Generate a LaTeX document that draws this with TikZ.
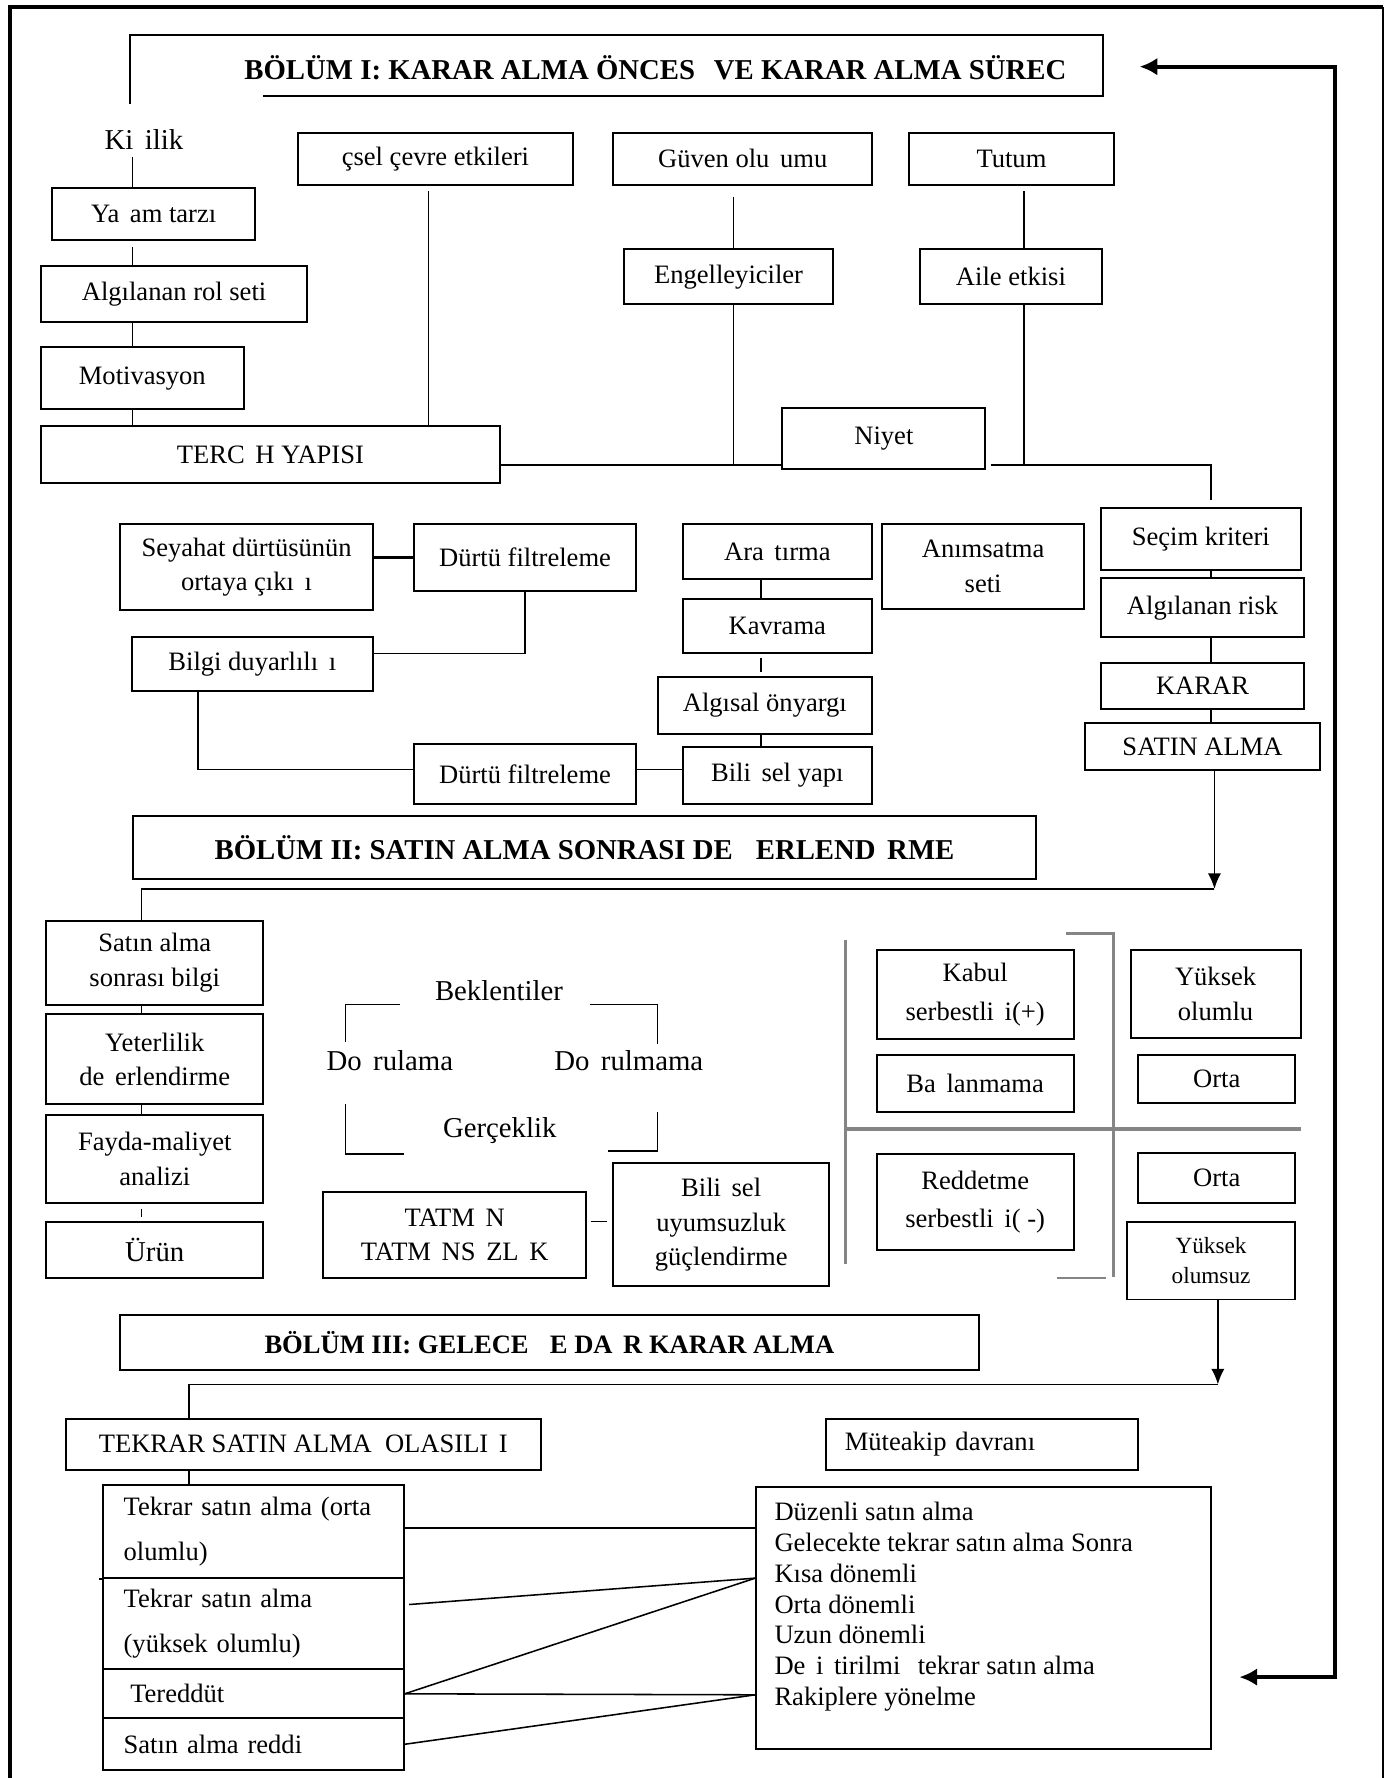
\documentclass[tikz,border=0pt]{standalone}
\usepackage{fontspec}
\setmainfont{Liberation Serif}
\usetikzlibrary{arrows.meta,calc}
\definecolor{GriClr}{rgb}{0.52,0.52,0.52}
\newcommand{\eksik}{\hspace{.4em}}

\begin{document}
\begin{tikzpicture}[x=0.018cm,y=-0.018cm,
  kutu/.style={draw,line width=0.9pt,inner sep=0pt,align=center,font=\fontsize{12}{15.5}\selectfont},
  boy/.style 2 args={minimum width={#1*0.018cm},minimum height={#2*0.018cm}},
  solkutu/.style={kutu,align=left,inner xsep=0.324cm,text width=4.122cm,font=\fontsize{12}{20.4}\selectfont},
  yazi/.style={font=\fontsize{13}{15.6}\selectfont},
  baslik/.style={font=\fontsize{13}{15.6}\selectfont\bfseries},
  cizgi/.style={line width=0.7pt},
  cerceve/.style={line width=0.9pt},
  gri/.style={draw=GriClr,line width=1.3pt},
  ok/.style={-{Latex[length=7pt,width=6pt]}},
  kalin/.style={line width=1.8pt,{Latex[length=8pt,width=8pt]}-{Latex[length=8pt,width=8pt]}}]
\useasboundingbox (0,0) rectangle (1221,1568);

% dis cerceve
\draw[line width=1.8pt] (9,1568) -- (9,6.3) -- (1219.3,6.3);
\draw[line width=0.9pt] (1219.3,6.3) -- (1219.3,1568);

% BOLUM I
\draw[cerceve] (115,92) -- (115,31) -- (973,31) -- (973,85) -- (232,85);
\node[baslik] (bolum1) at (578,60) {BÖLÜM I: KARAR ALMA ÖNCES\eksik{} VE KARAR ALMA SÜREC};

\node[yazi] (kisilik) at (127,123) {Ki\eksik{}ilik};
\node[kutu,boy={242}{46}] (icsel) at (384,140) {çsel çevre etkileri};
\node[kutu,boy={228}{46}] (guven) at (655,140) {Güven olu\eksik{}umu};
\node[kutu,boy={180}{46}] (tutum) at (892,140) {Tutum};
\node[kutu,boy={179}{46}] (yasam) at (135.5,189) {Ya\eksik{}am tarzı};
\node[kutu,boy={235}{49}] (rol) at (153.5,259.5) {Algılanan rol seti};
\node[kutu,boy={179}{55}] (motiv) at (125.5,333.5) {Motivasyon};
\node[kutu,boy={185}{48}] (engel) at (642.5,244) {Engelleyiciler};
\node[kutu,boy={161}{48}] (aile) at (891.5,244) {Aile etkisi};
\node[kutu,boy={405}{50}] (tercih) at (238.5,401) {TERC\eksik{}H YAPISI};
\node[kutu,boy={179}{54}] (niyet) at (779.5,387) {Niyet};

\node[kutu,boy={223}{76}] (seyahat) at (217.5,500) {Seyahat dürtüsünün\\ortaya çıkı\eksik{}ı};
\node[kutu,boy={196}{59}] (durtu1) at (463,491.5) {Dürtü filtreleme};
\node[kutu,boy={167}{49}] (arastirma) at (685.5,486.5) {Ara\eksik{}tırma};
\node[kutu,boy={178}{75}] (animsatma) at (867,499.5) {Anımsatma\\seti};
\node[kutu,boy={176}{55}] (secim) at (1059,475.5) {Seçim kriteri};
\node[kutu,boy={179}{52}] (risk) at (1060.5,536) {Algılanan risk};
\node[kutu,boy={167}{48}] (kavrama) at (685.5,552) {Kavrama};
\node[kutu,boy={213}{47}] (bilgi) at (222.5,585.5) {Bilgi duyarlılı\eksik{}ı};
\node[kutu,boy={179}{40}] (karar) at (1060.5,605) {KARAR};
\node[kutu,boy={189}{50}] (onyargi) at (674.5,622) {Algısal önyargı};
\node[kutu,boy={167}{50}] (bilissel) at (685.5,684) {Bili\eksik{}sel yapı};
\node[kutu,boy={196}{53}] (durtu2) at (463,682.5) {Dürtü filtreleme};
\node[kutu,boy={207}{41}] (satin) at (1060.5,658.5) {SATIN ALMA};

\coordinate (solx) at (117,0);
\coordinate (icx) at (378,0);
\coordinate (ex) at (647,0);
\coordinate (tx2) at (903,0);
\coordinate (kx) at (1068,0);
\coordinate (hy) at (0,410);
\draw[cizgi] (kisilik.south -| solx) -- (yasam.north -| solx);
\draw[cizgi,shorten <=2.5pt] (yasam.south -| solx) -- (rol.north -| solx);
\draw[cizgi] (rol.south -| solx) -- (motiv.north -| solx);
\draw[cizgi] (motiv.south -| solx) -- (tercih.north -| solx);
\draw[cizgi,shorten <=2.5pt] (icsel.south -| icx) -- (tercih.north -| icx);
\draw[cizgi,shorten <=5pt] (guven.south -| ex) -- (engel.north -| ex);
\draw[cizgi] (engel.south -| ex) -- (hy -| ex);
\draw[cizgi,shorten <=2.5pt] (tutum.south -| tx2) -- (aile.north -| tx2);
\draw[cizgi] (aile.south -| tx2) -- (hy -| tx2);
\draw[cizgi] (tercih.east |- hy) -- (niyet.west |- hy);
\draw[cizgi,shorten <=2pt,shorten >=3pt] (niyet.east |- hy) -| (secim.north -| kx);
\draw[cizgi] (secim.south -| kx) -- (risk.north -| kx);
\draw[cizgi] (risk.south -| kx) -- (karar.north -| kx);
\draw[cizgi] (karar.south -| kx) -- (satin.north -| kx);

\coordinate (ax) at (671,0);
\coordinate (bx) at (174.4,0);
\coordinate (by) at (0,576.4);
\coordinate (dy) at (0,678.8);
\draw[line width=1.3pt] (seyahat.east |- durtu1.west) -- (durtu1.west);
\draw[cizgi] (durtu1.south) |- (bilgi.east |- by);
\draw[cizgi] (arastirma.south -| ax) -- (kavrama.north -| ax);
\draw[cizgi,shorten <=1.8pt,shorten >=1.8pt] (kavrama.south -| ax) -- (onyargi.north -| ax);
\draw[cizgi] (onyargi.south -| ax) -- (bilissel.north -| ax);
\draw[cizgi] (durtu2.east |- dy) -- (bilissel.west |- dy);
\draw[cizgi] (bilgi.south -| bx) |- (durtu2.west |- dy);

% BOLUM II
\node[kutu,boy={797}{55},baslik] (bolum2) at (515.5,747.5) {BÖLÜM II: SATIN ALMA SONRASI DE\eksik\eksik{}ERLEND\eksik{}RME};
\coordinate (k2) at (1071,783.8);
\coordinate (sx) at (124.6,0);
\draw[cizgi,ok] (satin.south -| k2) -- (k2);

\node[kutu,boy={191}{74}] (sonrasi) at (136.5,849) {Satın alma\\sonrası bilgi};
\node[kutu,boy={191}{80}] (yeterlilik) at (136.5,934) {Yeterlilik\\de\eksik{}erlendirme};
\node[kutu,boy={191}{78}] (fayda) at (136.5,1022) {Fayda-maliyet\\analizi};
\node[kutu,boy={191}{49},yazi] (urun) at (136.5,1102.5) {Ürün};
\draw[cizgi] (k2) -| (sonrasi.north -| sx);
\draw[cizgi] (sonrasi.south -| sx) -- (yeterlilik.north -| sx);
\draw[cizgi] (yeterlilik.south -| sx) -- (fayda.north -| sx);
\draw[cizgi,shorten <=2pt,shorten >=2pt] (fayda.south -| sx) -- (urun.north -| sx);

\node[yazi] (beklenti) at (440,873.5) {Beklentiler};
\node[yazi] (dogrulama) at (343.8,935) {Do\eksik{}rulama};
\node[yazi] (dogrulmama) at (554.5,935) {Do\eksik{}rulmama};
\node[yazi] (gerceklik) at (440.7,997) {Gerçeklik};
\draw[cizgi] (304.5,919) -- (304.5,886) -- (352.7,886);
\draw[cizgi] (520,886) -- (580,886) -- (580,920.5);
\draw[cizgi] (304.5,973.5) -- (304.5,1017.6) -- (356,1017.6);
\draw[cizgi] (536,1015) -- (580,1015) -- (580,980.8);

\node[kutu,boy={232}{76}] (tatmin) at (401,1089) {TATM\eksik{}N\\TATM\eksik{}NS\eksik{}ZL\eksik{}K};
\node[kutu,boy={190}{108}] (uyumsuz) at (636,1080) {Bili\eksik{}sel\\uyumsuzluk\\güçlendirme};
\coordinate (ty) at (0,1077.3);
\draw[cizgi,shorten <=1.5pt,shorten >=2.5pt] (tatmin.east |- ty) -- (uyumsuz.west |- ty);

% sag bolge
\draw[gri] (745.5,829.4) -- (745.5,1114.6);
\draw[gri] (940,822.9) -- (982,822.9) -- (982,1126.4);
\draw[gri] (932,1127) -- (975,1127);
\draw[gri,line width=1.9pt] (745.5,995.5) -- (1147,995.5);
\node[kutu,boy={174}{78},font=\fontsize{12}{17.4}\selectfont] (kabul) at (860,877) {Kabul\\serbestli\eksik{}i(+)};
\node[kutu,boy={150}{77}] (yolumlu) at (1072,876.5) {Yüksek\\olumlu};
\node[kutu,boy={174}{51}] (baglanma) at (860,955.5) {Ba\eksik{}lanmama};
\node[kutu,boy={138}{43}] (orta1) at (1073,951.5) {Orta};
\node[kutu,boy={174}{84},font=\fontsize{12}{17.4}\selectfont] (reddetme) at (860,1060) {Reddetme\\serbestli\eksik{}i( -)};
\node[kutu,boy={138}{44}] (orta2) at (1073,1039) {Orta};
\node[kutu,boy={148}{68},font=\fontsize{10.5}{13.5}\selectfont] (yolumsuz) at (1068,1112) {Yüksek\\olumsuz};

% BOLUM III
\node[kutu,boy={757}{48},font=\fontsize{12}{14}\selectfont\bfseries] (bolum3) at (484.5,1184) {BÖLÜM III: GELECE\eksik\eksik{}E DA\eksik{}R KARAR ALMA};
\coordinate (k3) at (1074,1220.8);
\coordinate (tx) at (166.6,0);
\draw[cizgi,ok] (yolumsuz.south -| k3) -- (k3);

\node[kutu,boy={419}{45}] (tekrar) at (267.5,1273.5) {TEKRAR SATIN ALMA\ \ OLASILI\eksik{}I};
\node[kutu,boy={276}{45},align=left,text width=4.356cm,inner xsep=0.306cm] (muteakip) at (866,1273.5) {Müteakip davranı\eksik{}};
\draw[cizgi] (k3) -| (tekrar.north -| tx);
\draw[cizgi] (tekrar.south -| tx) -- (tx |- 0,1310);

\node[solkutu,boy={265}{82}] (ta1) at (223.5,1351) {Tekrar satın alma (orta\\olumlu)};
\node[solkutu,boy={265}{80}] (ta2) at (223.5,1432) {Tekrar satın alma\\(yüksek olumlu)};
\node[solkutu,boy={265}{43.5}] (ta3) at (223.5,1493.75) {\hspace*{.25em}Tereddüt};
\node[solkutu,boy={265}{45.5}] (ta4) at (223.5,1538.25) {Satın alma reddi};
\draw[cerceve] (ta1.south west) -- ++(-3,0);

\node[kutu,boy={401}{231}] (davranis) at (867.5,1426.5) {};
\node[anchor=north west,align=left,font=\fontsize{12}{13.9}\selectfont] (liste) at ($(davranis.north west)+(10,8)$)
  {Düzenli satın alma\\Gelecekte tekrar satın alma Sonra\\Kısa dönemli\\Orta dönemli\\Uzun dönemli\\De\eksik{}i\eksik{}tirilmi\eksik{} tekrar satın alma\\Rakiplere yönelme};

\coordinate (d1) at ($(davranis.north west)+(0,37.5)$);
\coordinate (d2) at ($(davranis.north west)+(0,81.6)$);
\coordinate (d3) at ($(davranis.north west)+(0,184.5)$);
\draw[cizgi] (ta1.east |- d1) -- (d1);
\draw[cizgi] ($(ta2.east)+(4,-17)$) -- (d2);
\draw[cizgi] (ta3.east) -- (d2);
\draw[cizgi] (ta3.east) -- (d3);
\draw[cizgi] (ta4.east) -- (d3);

% geri donus oku
\coordinate (okust) at (1005,58.8);
\coordinate (okalt) at (1093,1479);
\coordinate (kose1) at (1177,58.8);
\coordinate (kose2) at (1177,1479);
\draw[kalin] (okust) -- (kose1) -- (kose2) -- (okalt);

\end{tikzpicture}
\end{document}
